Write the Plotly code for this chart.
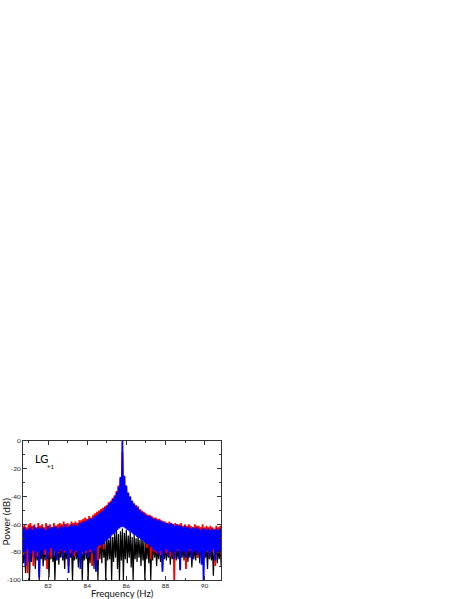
import numpy as np
import plotly.graph_objects as go

# spectrum, one value per 0.05 Hz bin starting at 80.70 Hz
f_start = 80.70
f_step = 0.05

blue = [
    -63, -80, -62, -90, -64, -78, -63, -87, -62, -81, -64, -79, -61, -84, -63, -80, -62, -98, -63, -79,
    -62, -82, -63, -78, -64, -85, -61, -80, -63, -77, -62, -83, -62, -79, -61, -86, -63, -80, -62, -78,
    -61, -84, -62, -79, -60, -81, -62, -95, -61, -78, -60, -83, -61, -80, -60, -79, -61, -84, -59, -92,
    -59, -80, -58, -82, -58, -79, -57, -84, -56, -78, -56, -81, -55, -79, -54, -94, -53, -76, -52, -75,
    -51, -75, -50, -74, -48, -72, -47, -71, -45, -70, -44, -68, -42, -67, -40, -66, -37, -64, -33, -63,
    -26, -62, 0, -62, -25, -63, -32, -64, -37, -65, -40, -66, -43, -67, -45, -68, -47, -69, -48, -70,
    -50, -71, -51, -72, -52, -73, -53, -74, -54, -75, -54, -76, -55, -78, -56, -79, -56, -80, -57, -82,
    -57, -79, -58, -94, -58, -80, -59, -78, -59, -83, -60, -80, -59, -79, -60, -85, -61, -80, -60, -78,
    -61, -93, -61, -80, -62, -79, -61, -84, -62, -80, -62, -78, -63, -86, -62, -80, -63, -79, -62, -82,
    -63, -80, -64, -89, -63, -100, -63, -80, -64, -79, -63, -83, -64, -80, -63, -78, -64, -86, -63, -80,
    -64, -79, -63, -81,
]

red = [
    -61, -82, -60, -79, -62, -95, -60, -81, -59, -80, -61, -90, -60, -79, -62, -83, -59, -80, -61, -78,
    -60, -80, -62, -82, -59, -92, -61, -79, -60, -84, -62, -80, -59, -78, -61, -82, -60, -81, -59, -79,
    -60, -82, -58, -80, -60, -79, -59, -90, -60, -81, -58, -79, -59, -83, -58, -80, -59, -79, -57, -82,
    -57, -80, -56, -79, -55, -81, -56, -78, -54, -80, -55, -90, -53, -79, -52, -78, -51, -86, -50, -77,
    -49, -74, -48, -78, -47, -71, -46, -70, -44, -69, -43, -67, -41, -66, -39, -65, -36, -63, -32, -62,
    -27, -61, -8, -61, -26, -62, -33, -63, -38, -64, -40, -65, -43, -66, -45, -67, -46, -68, -47, -69,
    -49, -70, -50, -71, -51, -72, -52, -77, -53, -74, -53, -85, -54, -79, -55, -80, -55, -81, -56, -80,
    -56, -82, -57, -80, -58, -79, -58, -81, -59, -80, -58, -83, -59, -79, -60, -100, -59, -80, -60, -79,
    -60, -81, -59, -80, -61, -79, -60, -92, -61, -80, -60, -79, -61, -82, -62, -80, -60, -79, -61, -84,
    -61, -80, -62, -79, -60, -81, -62, -80, -61, -79, -62, -83, -61, -80, -62, -79, -63, -90, -61, -80,
    -62, -79, -61, -82,
]

black = [
    -76, -88, -74, -95, -77, -85, -75, -100, -76, -87, -74, -84, -77, -92, -75, -86, -76, -100, -74, -85,
    -75, -90, -77, -86, -74, -84, -76, -98, -75, -85, -77, -87, -74, -100, -76, -85, -75, -89, -76, -84,
    -74, -86, -76, -92, -75, -85, -77, -88, -74, -84, -76, -100, -75, -86, -74, -85, -76, -91, -74, -87,
    -73, -100, -74, -86, -72, -85, -73, -100, -71, -88, -70, -84, -69, -92, -68, -86, -70, -100, -69, -85,
    -70, -88, -67, -84, -70, -100, -66, -86, -71, -85, -65, -100, -69, -87, -66, -84, -64, -92, -67, -100,
    -65, -86, -63, -100, -66, -85, -64, -88, -68, -84, -65, -91, -69, -100, -67, -85, -70, -87, -68, -84,
    -71, -90, -68, -86, -72, -100, -69, -85, -71, -88, -70, -100, -72, -86, -72, -84, -73, -90, -74, -85,
    -74, -87, -75, -92, -74, -85, -76, -86, -75, -84, -77, -89, -75, -85, -76, -88, -74, -86, -77, -85,
    -75, -90, -76, -84, -74, -86, -77, -85, -75, -87, -76, -84, -74, -91, -77, -85, -75, -86, -76, -84,
    -75, -88, -74, -85, -77, -86, -75, -84, -76, -92, -74, -85, -77, -86, -75, -97, -76, -84, -74, -88,
    -76, -85, -75, -90,
]

y_ticks = [0, -20, -40, -60, -80, -100]
y_labels = ["0", "-20", "-40", "-60", "-80", "-100"]
x_ticks = [82, 84, 86, 88, 90]

freq = np.round(f_start + f_step * np.arange(len(blue)), 2)

fig = go.Figure()
for vals, col, w in [(black, "black", 1.2), (red, "#ff0000", 1.8), (blue, "#0000ff", 1.8)]:
    fig.add_trace(go.Scatter(x=freq, y=vals, mode="lines",
                             line=dict(color=col, width=w), showlegend=False))

axis_style = dict(showline=True, linecolor="#333", linewidth=1, mirror="allticks",
                  ticks="inside", ticklen=4, tickwidth=1, tickcolor="#333",
                  showgrid=False, zeroline=False, automargin=False,
                  tickfont=dict(size=6.5, color="#222"))

fig.update_xaxes(range=[80.72, 90.84], tickvals=x_ticks, ticklabelstandoff=-1,
                 minor=dict(dtick=1, tick0=81, ticks="inside", ticklen=2, tickcolor="#333"),
                 **axis_style)
fig.update_yaxes(range=[-100, 0], tickvals=y_ticks, ticktext=y_labels,
                 minor=dict(dtick=10, ticks="inside", ticklen=2, tickcolor="#333"),
                 **axis_style)

# axis titles placed by hand, the y title sits a bit below centre in the original
fig.add_annotation(x=0.5, y=-0.1, xref="paper", yref="paper", xanchor="center", yanchor="middle",
                   text="Frequency (Hz)", showarrow=False, font=dict(size=9.5, color="#111"))
fig.add_annotation(x=-0.086, y=0.42, xref="paper", yref="paper", xanchor="center", yanchor="middle",
                   text="Power (dB)", textangle=-90, showarrow=False, font=dict(size=10, color="#111"))

fig.add_annotation(x=0.049, y=0.875, xref="paper", yref="paper", xanchor="left", yanchor="middle",
                   text="LG", showarrow=False, font=dict(size=11, color="black"))
fig.add_annotation(x=0.112, y=0.82, xref="paper", yref="paper", xanchor="left", yanchor="middle",
                   text="+1", showarrow=False, font=dict(size=6, color="black"))

fig.update_layout(width=463, height=599, plot_bgcolor="white", paper_bgcolor="white",
                  margin=dict(l=23, r=242, t=441, b=19),
                  font=dict(family="Lato, Open Sans, sans-serif"))

fig.write_html("out.html", config={"displayModeBar": False},
               post_script="document.body.style.margin='0';")
